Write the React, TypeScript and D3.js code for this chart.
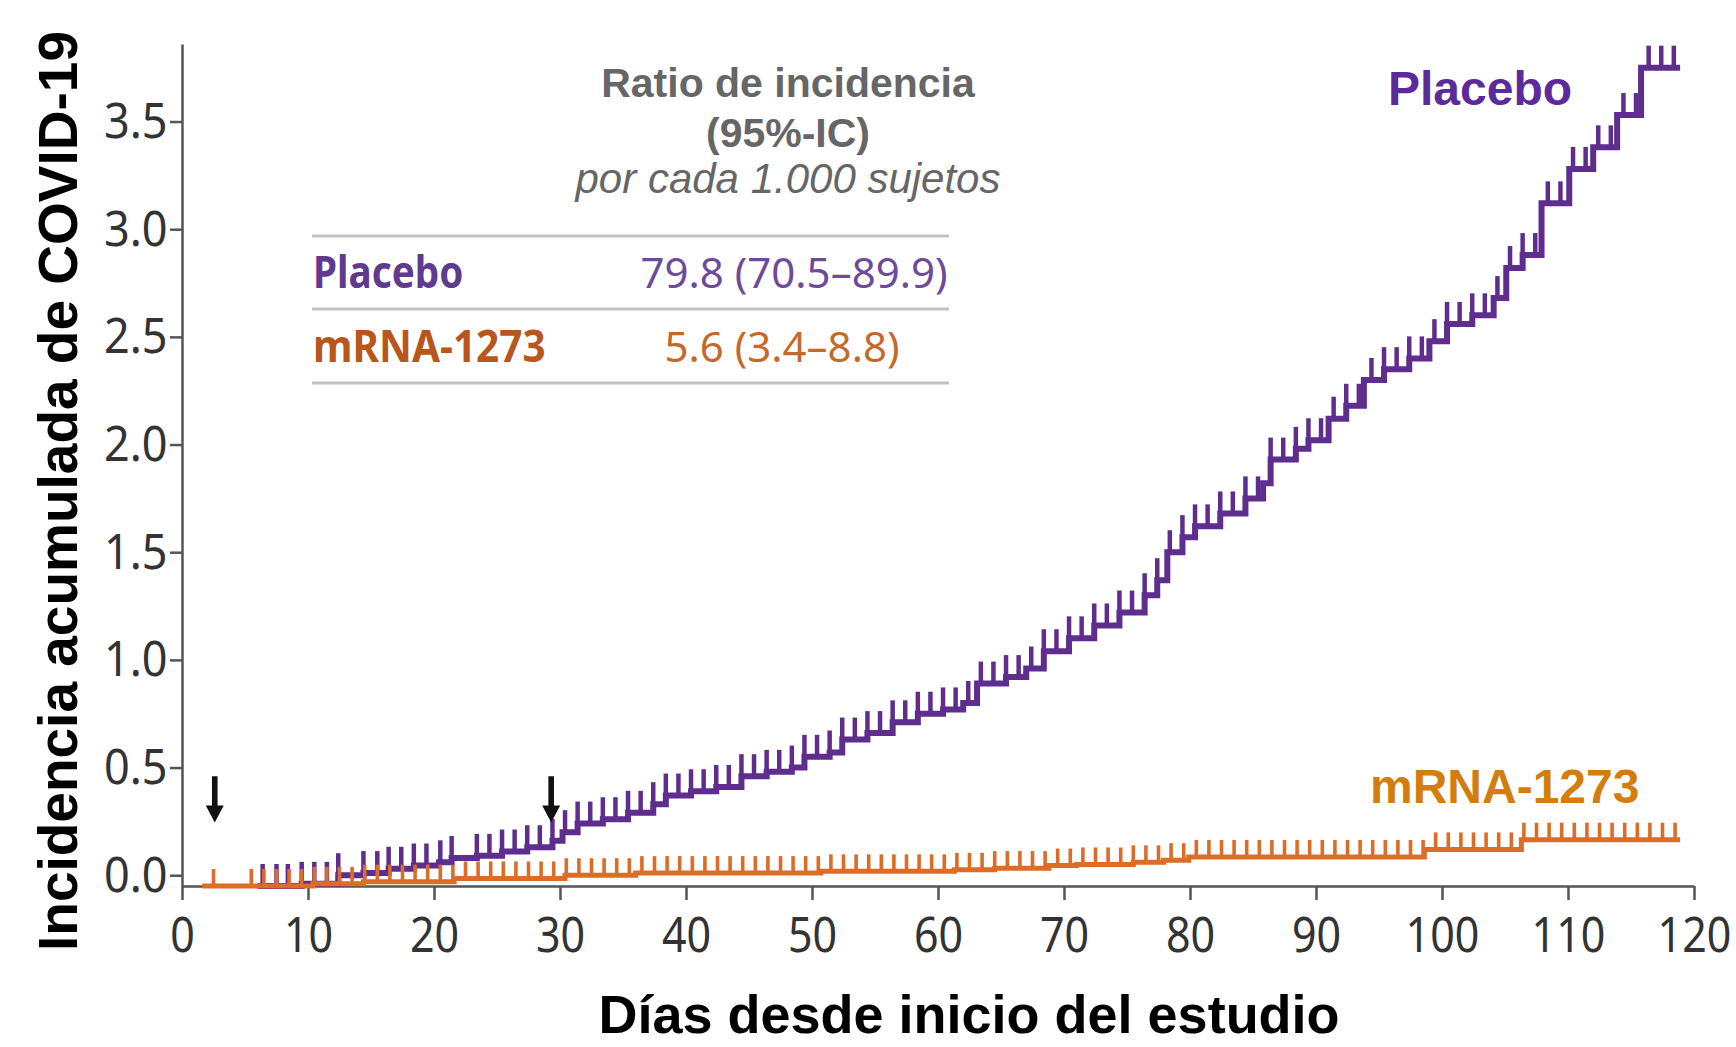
import { useEffect, useRef } from "react";
import * as d3 from "d3";

// Step points of the cumulative incidence curves (day, value)
const placeboDays = [
  6.0, 9.5, 12.4, 14.4, 16.4, 18.4, 20.4, 21.4, 23.4, 25.4, 27.4, 29.4, 30.2,
  31.4, 33.4, 35.4, 37.4, 38.4, 40.4, 42.4, 44.4, 46.4, 48.4, 49.4, 51.4, 52.4,
  54.4, 56.4, 58.4, 60.4, 62.0, 63.1, 65.4, 67.0, 68.4, 70.4, 72.4, 74.4, 76.4,
  77.4, 78.2, 79.4, 80.4, 82.4, 84.4, 85.8, 86.4, 88.4, 89.4, 91.0, 92.4, 93.8,
  95.4, 97.4, 99.0, 100.4, 102.4, 104.1, 105.1, 106.4, 107.9, 110.1, 112.0,
  113.9, 115.8, 118.9,
];
const placeboValues = [
  -0.05, -0.04, 0.0, 0.01, 0.03, 0.045, 0.06, 0.08, 0.09, 0.11, 0.13, 0.16, 0.2,
  0.24, 0.26, 0.29, 0.33, 0.37, 0.39, 0.41, 0.46, 0.48, 0.5, 0.55, 0.57, 0.63,
  0.66, 0.71, 0.75, 0.77, 0.8, 0.89, 0.92, 0.96, 1.04, 1.1, 1.16, 1.22, 1.3,
  1.37, 1.5, 1.57, 1.62, 1.68, 1.75, 1.82, 1.93, 1.98, 2.02, 2.12, 2.18, 2.3,
  2.35, 2.4, 2.48, 2.56, 2.6, 2.68, 2.82, 2.88, 3.12, 3.28, 3.38, 3.53, 3.75,
  3.75,
];
const mrnaDays = [
  1.6, 10.4, 14.4, 21.6, 30.4, 36.0, 50.7, 61.3, 64.5, 68.8, 71.0, 75.5, 77.9,
  79.9, 98.6, 106.3, 118.9,
];
const mrnaValues = [
  -0.05, -0.04, -0.03, -0.015, 0.0, 0.01, 0.018, 0.025, 0.033, 0.045, 0.05,
  0.06, 0.07, 0.085, 0.12, 0.165, 0.165,
];

// Censoring marks (days)
const placeboCensor = [
  6.4, 7.5, 8.4, 9.5, 10.5, 11.5, 12.4, 14.4, 15.5, 16.4,
  17.4, 18.4, 19.4, 20.5, 21.4, 23.4, 24.4, 25.4, 26.4, 27.4,
  28.4, 29.4, 30.4, 31.4, 32.4, 33.4, 34.4, 35.4, 36.4, 37.4,
  38.4, 39.4, 40.4, 41.4, 42.4, 43.4, 44.4, 45.4, 46.4, 47.4,
  48.4, 49.4, 50.4, 51.4, 52.4, 53.4, 54.4, 55.4, 56.4, 57.4,
  58.4, 59.4, 60.4, 61.4, 62.4, 63.4, 64.4, 65.4, 66.4, 67.4,
  68.4, 69.4, 70.4, 71.4, 72.4, 73.4, 74.4, 75.4, 76.4, 77.4,
  78.4, 79.4, 80.4, 81.4, 82.4, 83.4, 84.4, 85.4, 86.4, 87.4,
  88.4, 89.4, 90.4, 91.4, 92.4, 93.4, 94.4, 95.4, 96.4, 97.4,
  98.4, 99.4, 100.4, 101.4, 102.4, 103.4, 104.4, 105.4, 106.4, 107.4,
  108.4, 109.4, 110.4, 111.4, 112.4, 113.4, 114.4, 115.4, 116.4, 117.4,
  118.4,
];
const mrnaCensor = [
  2.5, 5.5, 6.5, 7.5, 8.5, 9.5, 10.5, 11.5, 12.5, 13.5,
  14.5, 15.5, 16.5, 17.5, 18.5, 19.5, 20.5, 21.5, 22.5, 23.5,
  24.5, 25.5, 26.5, 27.5, 28.5, 29.5, 30.5, 31.5, 32.5, 33.5,
  34.5, 35.5, 36.5, 37.5, 38.5, 39.5, 40.5, 41.5, 42.5, 43.5,
  44.5, 45.5, 46.5, 47.5, 48.5, 49.5, 50.5, 51.5, 52.5, 53.5,
  54.5, 55.5, 56.5, 57.5, 58.5, 59.5, 60.5, 61.5, 62.5, 63.5,
  64.5, 65.5, 66.5, 67.5, 68.5, 69.5, 70.5, 71.5, 72.5, 73.5,
  74.5, 75.5, 76.5, 77.5, 78.5, 79.5, 80.5, 81.5, 82.5, 83.5,
  84.5, 85.5, 86.5, 87.5, 88.5, 89.5, 90.5, 91.5, 92.5, 93.5,
  94.5, 95.5, 96.5, 97.5, 98.5, 99.5, 100.5, 101.5, 102.5, 103.5,
  104.5, 105.5, 106.5, 107.5, 108.5, 109.5, 110.5, 111.5, 112.5, 113.5,
  114.5, 115.5, 116.5, 117.5, 118.5,
];

const xTicks = [0, 10, 20, 30, 40, 50, 60, 70, 80, 90, 100, 110, 120];
const yTicks = [0, 0.5, 1, 1.5, 2, 2.5, 3, 3.5];
const arrowDays = [2.6, 29.3];

const tableNames = ["Placebo", "mRNA-1273"];
const tableValues = ["79.8 (70.5\u201389.9)", "5.6 (3.4\u20138.8)"];
const headerLines = ["Ratio de incidencia", "(95%-IC)", "por cada 1.000 sujetos"];

const W = 1736;
const H = 1047;

const PURPLE = "#5e2d8e";
const ORANGE = "#dc6c26";

export default function App() {
  const svgRef = useRef<SVGSVGElement>(null);

  useEffect(() => {
    document.body.style.margin = "0";
    if (!svgRef.current) return;
    const svg = d3.select(svgRef.current);
    svg.selectAll("*").remove();

    const x = d3.scaleLinear().domain([0, 120]).range([182, 1694]);
    const y = d3.scaleLinear().domain([-0.05, 3.86]).range([886, 44]);

    const numFont = "'Noto Sans', sans-serif";
    const sansFont = "'Liberation Sans', Arial, sans-serif";

    // X axis
    const gx = svg
      .append("g")
      .attr("transform", `translate(0,${y(-0.05)})`)
      .call(d3.axisBottom(x).tickValues(xTicks).tickSize(14).tickSizeOuter(0).tickPadding(17));
    gx.select(".domain").attr("stroke", "#555").attr("stroke-width", 2.5);
    gx.selectAll(".tick line").attr("stroke", "#555").attr("stroke-width", 2.5);
    gx.selectAll(".tick text")
      .attr("font-family", numFont)
      .attr("font-size", 50)
      .attr("fill", "#333")
      .attr("transform", "scale(0.86,1)");

    // Y axis
    const gy = svg
      .append("g")
      .attr("transform", `translate(${x(0)},0)`)
      .call(
        d3
          .axisLeft(y)
          .tickValues(yTicks)
          .tickSize(12)
          .tickSizeOuter(0)
          .tickPadding(4)
          .tickFormat(d3.format(".1f"))
      );
    gy.select(".domain").attr("stroke", "#555").attr("stroke-width", 2.5);
    gy.selectAll(".tick line").attr("stroke", "#555").attr("stroke-width", 2.5);
    gy.selectAll(".tick text")
      .attr("font-family", numFont)
      .attr("font-size", 50)
      .attr("fill", "#333")
      .attr("transform", "scale(0.9,1)");

    // Step curves with censoring marks
    const line = d3
      .line<[number, number]>()
      .x((d) => x(d[0]))
      .y((d) => y(d[1]))
      .curve(d3.curveStepAfter);

    const series = [
      { days: placeboDays, values: placeboValues, censor: placeboCensor, color: PURPLE, width: 6, tickW: 4.5, tickLen: 22 },
      { days: mrnaDays, values: mrnaValues, censor: mrnaCensor, color: ORANGE, width: 5, tickW: 3.6, tickLen: 17 },
    ];

    series.forEach((s) => {
      const pts = s.days.map((d, i) => [d, s.values[i]] as [number, number]);
      const valueAt = (t: number) => s.values[Math.max(0, d3.bisectRight(s.days, t) - 1)];
      svg
        .append("g")
        .selectAll("line")
        .data(s.censor)
        .join("line")
        .attr("x1", (d) => x(d))
        .attr("x2", (d) => x(d))
        .attr("y1", (d) => y(valueAt(d)))
        .attr("y2", (d) => y(valueAt(d)) - s.tickLen)
        .attr("stroke", s.color)
        .attr("stroke-width", s.tickW);
      svg
        .append("path")
        .attr("d", line(pts))
        .attr("fill", "none")
        .attr("stroke", s.color)
        .attr("stroke-width", s.width)
        .attr("stroke-linejoin", "miter");
    });

    // Arrows
    svg
      .append("g")
      .selectAll("path")
      .data(arrowDays)
      .join("path")
      .attr("d", (d) => {
        const cx = x(d);
        const top = y(0.46);
        const tip = y(0.245);
        const hb = tip - 17;
        return `M${cx - 2.8},${top}L${cx + 2.8},${top}L${cx + 2.8},${hb}L${cx + 9},${hb}L${cx},${tip}L${cx - 9},${hb}L${cx - 2.8},${hb}Z`;
      })
      .attr("fill", "#111");

    // Axis titles
    svg
      .append("text")
      .attr("transform", "translate(77,491) rotate(-90)")
      .attr("text-anchor", "middle")
      .attr("font-family", sansFont)
      .attr("font-weight", "bold")
      .attr("font-size", 55)
      .attr("fill", "#000")
      .text("Incidencia acumulada de COVID-19");

    svg
      .append("text")
      .attr("x", 969)
      .attr("y", 1033)
      .attr("text-anchor", "middle")
      .attr("font-family", sansFont)
      .attr("font-weight", "bold")
      .attr("font-size", 54)
      .attr("fill", "#000")
      .text("Días desde inicio del estudio");

    // Header of the table
    const headerY = [97, 147, 193];
    svg
      .append("g")
      .selectAll("text")
      .data(headerLines)
      .join("text")
      .attr("x", 788)
      .attr("y", (_, i) => headerY[i])
      .attr("text-anchor", "middle")
      .attr("font-family", sansFont)
      .attr("font-size", (_, i) => (i < 2 ? 41 : 42))
      .attr("font-weight", (_, i) => (i < 2 ? "bold" : "normal"))
      .attr("font-style", (_, i) => (i === 2 ? "italic" : "normal"))
      .attr("fill", "#666")
      .text((d) => d);

    // Table rules
    svg
      .append("g")
      .selectAll("line")
      .data([236, 309, 383])
      .join("line")
      .attr("x1", 312)
      .attr("x2", 949)
      .attr("y1", (d) => d)
      .attr("y2", (d) => d)
      .attr("stroke", "#c2c2c2")
      .attr("stroke-width", 3);

    const nameColors = ["#5f3a8d", "#b9561c"];
    const nameScale = [0.86, 0.9];
    const valueColors = ["#6d4b99", "#c4692c"];
    const rowY = [288, 362];
    const valueX = [794, 782];

    tableNames.forEach((name, i) => {
      svg
        .append("text")
        .attr("transform", `translate(313,${rowY[i]}) scale(${nameScale[i]},1)`)
        .attr("font-family", numFont)
        .attr("font-weight", "bold")
        .attr("font-size", 45)
        .attr("fill", nameColors[i])
        .text(name);
      svg
        .append("text")
        .attr("transform", `translate(${valueX[i]},${rowY[i]})`)
        .attr("text-anchor", "middle")
        .attr("font-family", numFont)
        .attr("font-size", 42)
        .attr("fill", valueColors[i])
        .text(tableValues[i]);
    });

    // Series labels
    svg
      .append("text")
      .attr("x", 1388)
      .attr("y", 105)
      .attr("font-family", sansFont)
      .attr("font-weight", "bold")
      .attr("font-size", 48)
      .attr("fill", "#5b2b9c")
      .text("Placebo");

    svg
      .append("text")
      .attr("x", 1370)
      .attr("y", 803)
      .attr("font-family", sansFont)
      .attr("font-weight", "bold")
      .attr("font-size", 48)
      .attr("fill", "#d27d0c")
      .text("mRNA-1273");
  }, []);

  return (
    <div style={{ width: W, height: H, background: "#fff", overflow: "hidden" }}>
      <svg ref={svgRef} width={W} height={H} style={{ display: "block" }} />
    </div>
  );
}
